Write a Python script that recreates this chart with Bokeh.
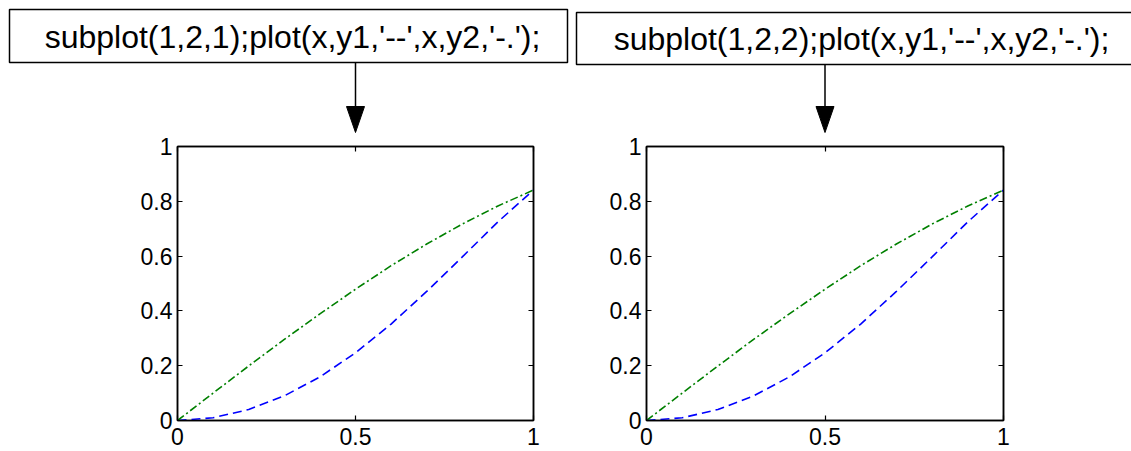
from bokeh.plotting import figure
from bokeh.layouts import row, column
from bokeh.models import LinearAxis, FixedTicker
from bokeh.core.properties import value
from bokeh.embed import file_html
from bokeh.resources import INLINE

# ---- data ----
x = [0.0, 0.1, 0.2, 0.3, 0.4, 0.5, 0.6, 0.7, 0.8, 0.9, 1.0]
y1 = [0.0, 0.010, 0.040, 0.090, 0.159, 0.247, 0.352, 0.471, 0.597, 0.725, 0.841]
y2 = [0.0, 0.100, 0.199, 0.296, 0.389, 0.479, 0.565, 0.644, 0.717, 0.783, 0.841]
x_ticks = [0, 0.5, 1]
y_ticks = [0, 0.2, 0.4, 0.6, 0.8, 1]
titles = ["subplot(1,2,1);plot(x,y1,'--',x,y2,'-.');",
          "subplot(1,2,2);plot(x,y1,'--',x,y2,'-.');"]
arrow_target_x = 0.5   # the data x each annotation arrow points to

FONT = "Liberation Sans"
W = 1131
H = 451
TOP_H = 133            # height of the annotation strip above the plots

# frame geometry (pixels)
LEFT_W, RIGHT_W = 572, 559
L_FRAME = (177, 533)
R_FRAME = (646, 1003)


def make_plot(width, bl, br):
    p = figure(width=width, height=H - TOP_H, x_range=(0, 1), y_range=(0, 1),
               output_backend="svg", toolbar_location=None,
               min_border_left=bl, min_border_right=br,
               min_border_top=13, min_border_bottom=31,
               x_axis_location=None, y_axis_location=None)
    p.grid.visible = False
    p.outline_line_color = "black"
    p.outline_line_width = 1.5
    p.background_fill_color = "white"
    p.border_fill_color = "white"

    axes = [("below", x_ticks, True), ("above", x_ticks, False),
            ("left", y_ticks, True), ("right", y_ticks, False)]
    for loc, ticks, lab in axes:
        ax = LinearAxis(ticker=FixedTicker(ticks=ticks))
        ax.axis_line_color = "black"
        ax.axis_line_width = 1.5
        ax.major_tick_in = 5
        ax.major_tick_out = 0
        ax.minor_tick_in = 0
        ax.minor_tick_out = 0
        ax.major_tick_line_color = "black"
        ax.major_tick_line_width = 1.2
        ax.major_label_text_font = FONT
        ax.major_label_text_font_size = "23px"
        ax.major_label_text_color = "black"
        if loc == "below":
            ax.major_label_standoff = 7
        elif loc == "left":
            ax.major_label_standoff = 5
        if not lab:
            ax.major_label_overrides = {t: "" for t in ticks}
            ax.major_label_text_font_size = "1px"
            ax.major_label_standoff = 0
        p.add_layout(ax, loc)

    p.line(x, y1, line_color="#0000ff", line_width=1.6, line_dash="9 5")
    p.line(x, y2, line_color="#008000", line_width=1.6, line_dash="8 3 2 3")
    return p


p1 = make_plot(LEFT_W, L_FRAME[0], LEFT_W - L_FRAME[1])
p2 = make_plot(RIGHT_W, R_FRAME[0] - LEFT_W, RIGHT_W - (R_FRAME[1] - LEFT_W))

# ---- annotation strip (text boxes + arrows), pixel coordinates ----
top = figure(width=W, height=TOP_H, x_range=(0, W), y_range=(TOP_H, 0),
             output_backend="svg", toolbar_location=None,
             min_border=0, x_axis_location=None, y_axis_location=None)
top.grid.visible = False
top.outline_line_color = None
top.background_fill_color = "white"
top.border_fill_color = "white"

box_left = [9, 576]
box_right = [567, W + 20]
box_top = [9, 12]
box_bottom = [62, 64]
text_x = [292, 861]
text_y = [36, 38]

top.quad(left=box_left, right=box_right, top=box_top, bottom=box_bottom,
         fill_color="white", line_color="black", line_width=1.5)
top.text(x=text_x, y=text_y, text=titles, text_font=value(FONT),
         text_font_size=value("32px"), text_align="center",
         text_baseline="middle", text_color="black")

ax_px = [L_FRAME[0] + arrow_target_x * (L_FRAME[1] - L_FRAME[0]),
         R_FRAME[0] + arrow_target_x * (R_FRAME[1] - R_FRAME[0])]
tip_y = 132
head_len = 26
head_half = 9
top.segment(x0=ax_px, y0=box_bottom, x1=ax_px, y1=[tip_y - head_len + 2] * 2,
            line_color="black", line_width=1.5)
top.patches(xs=[[a - head_half, a + head_half, a] for a in ax_px],
            ys=[[tip_y - head_len, tip_y - head_len, tip_y] for _ in ax_px],
            fill_color="black", line_color="black", line_width=1)

layout = column(top, row(p1, p2, spacing=0), spacing=0)
open("out.html", "w").write(file_html(layout, INLINE))
